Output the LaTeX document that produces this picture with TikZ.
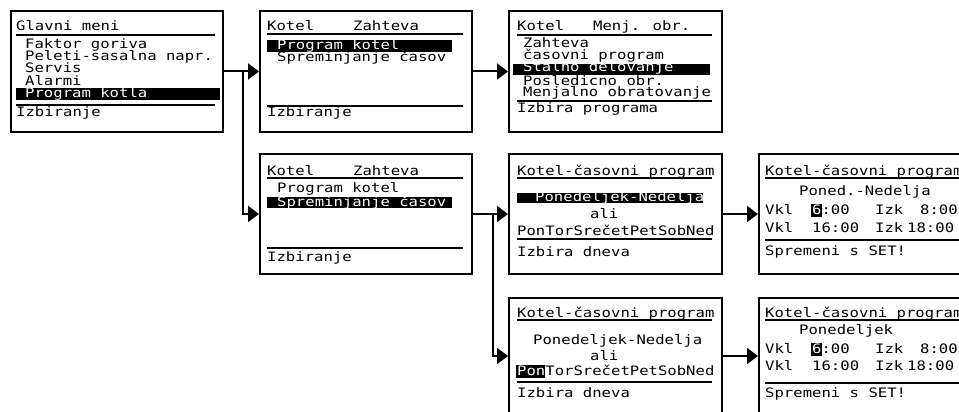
\documentclass[tikz,border=0pt]{standalone}
\usepackage{fontspec}
\usepackage{tikz}
\usetikzlibrary{arrows.meta, positioning, calc}
\newfontfamily\lcd[FakeStretch=1.2]{DejaVu Sans Mono}

\begin{document}
\begin{tikzpicture}[
  x=1pt, y=-1pt,
  zaslon/.style={draw, line width=2pt, anchor=north west, minimum width=212pt,
    minimum height=120pt, inner sep=0pt},
  napis/.style={font=\lcd\fontsize{13}{13}\selectfont, anchor=base west, inner sep=0pt},
  izbran/.style={napis, text=white},
  crta/.style={line width=1.5pt},
  puscica/.style={-{Triangle[length=11pt, width=16pt]}, line width=2pt}
]
  \path[use as bounding box] (0,0) rectangle (959,412);
  \clip (0,0) rectangle (959,412);

  % zasloni
  \node[zaslon, minimum height=121pt] (glavni) at (10,10) {};
  \node[zaslon, minimum height=121pt] (zahteva) at (259,10) {};
  \node[zaslon, minimum height=121pt, minimum width=213pt] (menjobr) at (508,10) {};
  \node[zaslon] (spremembe) at (259,153) {};
  \node[zaslon, minimum width=213pt] (dnevi) at (508,153) {};
  \node[zaslon, minimum width=213pt] (urnik) at (758,153) {};
  \node[zaslon, minimum width=213pt, minimum height=116pt] (dan) at (508,297) {};
  \node[zaslon, minimum width=213pt, minimum height=116pt] (danurnik) at (758,297) {};

  % Glavni meni
  \node[napis] (g0) at (16,31) {Glavni meni};
  \draw[crta] (16,35) -- (215,35);
  \foreach \t [count=\i] in {Faktor goriva, Peleti-sasalna napr., Servis, Alarmi}
    \node[napis] (g\i) at (25,37+12*\i) {\t};
  \fill (16,88) rectangle (220,100);
  \node[izbran] (g5) at (25,97) {Program kotla};
  \draw[crta] (16,105) -- (215,105);
  \node[napis] (g6) at (16,117) {Izbiranje};

  % Kotel - Zahteva
  \node[napis] (z0) at (267,31) {Kotel};
  \node[napis] (z0b) at (353,31) {Zahteva};
  \draw[crta] (267,34) -- (463,34);
  \fill (267,40) rectangle (452,52);
  \node[izbran] (z1) at (277,50) {Program kotel};
  \node[napis] (z2) at (277,62) {Spreminjanje časov};
  \draw[crta] (267,106) -- (463,106);
  \node[napis] (z3) at (267,117) {Izbiranje};

  % Kotel - Menj. obr.
  \node[napis] (m0) at (517,31) {Kotel};
  \node[napis] (m0b) at (593,31) {Menj. obr.};
  \draw[crta] (517,35) -- (712,35);
  \node[napis] (m1) at (523,48) {Zahteva};
  \node[napis] (m2) at (523,60) {časovni program};
  \fill (513,64) rectangle (710,75);
  \node[izbran] (m3) at (523,72) {Stalno delovanje};
  \node[napis] (m4) at (523,85) {Posledicno obr.};
  \node[napis] (m5) at (523,96) {Menjalno obratovanje};
  \draw[crta] (517,101) -- (712,101);
  \node[napis] (m6) at (517,113) {Izbira programa};

  % Kotel - Zahteva (spreminjanje)
  \node[napis] (s0) at (267,175) {Kotel};
  \node[napis] (s0b) at (353,175) {Zahteva};
  \draw[crta] (267,178) -- (463,178);
  \node[napis] (s1) at (277,192) {Program kotel};
  \fill (267,197) rectangle (452,208);
  \node[izbran] (s2) at (277,206) {Spreminjanje časov};
  \draw[crta] (267,248) -- (463,248);
  \node[napis] (s3) at (267,261) {Izbiranje};

  % casovni program - izbira dni
  \node[napis] (d0) at (517,175) {Kotel-časovni program};
  \draw[crta] (517,178) -- (712,178);
  \fill (517,193) rectangle (703,203);
  \node[izbran] (d1) at (535,201) {Ponedeljek-Nedelja};
  \node[napis] (d2) at (590,218) {ali};
  \node[napis] (d3) at (517,235) {PonTorSrečetPetSobNed};
  \draw[crta] (517,239) -- (712,239);
  \node[napis] (d4) at (517,256) {Izbira dneva};

  % casovni program - ure
  \node[napis] (u0) at (765,175) {Kotel-časovni program};
  \draw[crta] (765,178) -- (965,178);
  \node[napis] (u1) at (799,195) {Poned.-Nedelja};
  \node[napis] (u2) at (765,214) {Vkl};
  \fill (811,204) rectangle (822,217);
  \node[napis] (u3) at (812,214) {\textcolor{white}{6}:00};
  \node[napis] (u4) at (875,214) {Izk};
  \node[napis] (u5) at (920,214) {8:00};
  \node[napis] (u6) at (765,232) {Vkl};
  \node[napis] (u7) at (812,232) {16:00};
  \node[napis] (u8) at (875,232) {Izk};
  \node[napis] (u9) at (907,232) {18:00};
  \draw[crta] (765,240) -- (965,240);
  \node[napis] (u10) at (765,255) {Spremeni s SET!};

  % posamezen dan
  \node[napis] (p0) at (517,317) {Kotel-časovni program};
  \draw[crta] (517,320) -- (712,320);
  \node[napis] (p1) at (533,344) {Ponedeljek-Nedelja};
  \node[napis] (p2) at (590,360) {ali};
  \fill (516,365) rectangle (545,378);
  \node[napis] (p3) at (517,375) {\textcolor{white}{Pon}TorSrečetPetSobNed};
  \draw[crta] (517,382) -- (712,382);
  \node[napis] (p4) at (517,397) {Izbira dneva};

  % posamezen dan - ure
  \node[napis] (r0) at (765,317) {Kotel-časovni program};
  \draw[crta] (765,320) -- (965,320);
  \node[napis] (r1) at (799,334) {Ponedeljek};
  \node[napis] (r2) at (765,353) {Vkl};
  \fill (811,343) rectangle (822,356);
  \node[napis] (r3) at (812,353) {\textcolor{white}{6}:00};
  \node[napis] (r4) at (875,353) {Izk};
  \node[napis] (r5) at (920,353) {8:00};
  \node[napis] (r6) at (765,370) {Vkl};
  \node[napis] (r7) at (812,370) {16:00};
  \node[napis] (r8) at (875,370) {Izk};
  \node[napis] (r9) at (907,370) {18:00};
  \draw[crta] (765,383) -- (965,383);
  \node[napis] (r10) at (765,397) {Spremeni s SET!};

  % povezave
  \coordinate (j1) at ($(glavni.east)+(19,0)$);
  \coordinate (j2) at ($(spremembe.east)+(20,0)$);
  \draw[puscica] (glavni.east) -- (zahteva.west);
  \draw[puscica] (j1) |- (spremembe.west);
  \draw[puscica] (zahteva.east) -- (menjobr.west);
  \draw[puscica] (spremembe.east) -- (dnevi.west);
  \draw[puscica] (j2) |- (dan.west);
  \draw[puscica] (dnevi.east) -- (urnik.west);
  \draw[puscica] (dan.east) -- (danurnik.west);
\end{tikzpicture}
\end{document}
